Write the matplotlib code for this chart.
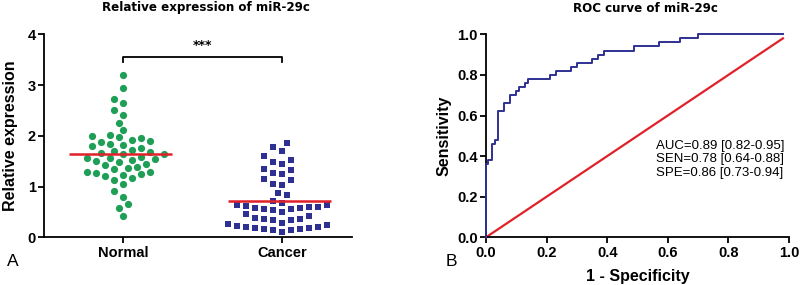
import numpy as np
import matplotlib
matplotlib.use('Agg')
import matplotlib.pyplot as plt

# ---------------- data ----------------
groups = ['Normal', 'Cancer']
normal_vals = [3.20, 2.95, 2.73, 2.64, 2.51, 2.41, 2.26, 2.12, 2.02, 1.99,
               1.97, 1.95, 1.92, 1.89, 1.87, 1.84, 1.82, 1.79, 1.76, 1.73,
               1.70, 1.69, 1.67, 1.64, 1.64, 1.59, 1.57, 1.56, 1.54, 1.53,
               1.51, 1.49, 1.44, 1.42, 1.39, 1.37, 1.35, 1.29, 1.28, 1.26,
               1.24, 1.23, 1.20, 1.16, 1.13, 1.06, 0.92, 0.80, 0.66, 0.57,
               0.42]
cancer_vals = [1.85, 1.77, 1.71, 1.60, 1.52, 1.49, 1.44, 1.35, 1.33, 1.26,
               1.24, 1.15, 1.13, 1.06, 1.04, 0.87, 0.83, 0.71,
               0.68, 0.64, 0.59, 0.57, 0.55, 0.54, 0.55, 0.57, 0.59, 0.62, 0.64,
               0.49, 0.42, 0.37, 0.35, 0.29, 0.27, 0.34, 0.36, 0.39, 0.45,
               0.24, 0.21, 0.19, 0.16, 0.14, 0.11, 0.14, 0.16, 0.18, 0.20, 0.22]
group_means = [1.64, 0.71]
expr_yticks = [0, 1, 2, 3, 4]
signif_label = '***'

roc_fpr = [0.0, 0.0, 0.008, 0.02, 0.03, 0.04, 0.06, 0.08, 0.10, 0.11, 0.13,
           0.14, 0.21, 0.23, 0.28, 0.30, 0.35, 0.37, 0.39, 0.49, 0.57, 0.64,
           0.70, 0.98]
roc_tpr = [0.0, 0.36, 0.38, 0.46, 0.48, 0.62, 0.66, 0.70, 0.72, 0.74, 0.76,
           0.78, 0.80, 0.82, 0.84, 0.86, 0.88, 0.90, 0.92, 0.94, 0.96, 0.98,
           1.0, 1.0]
ref_line = [0.0, 0.98]
roc_ticks = [0.0, 0.2, 0.4, 0.6, 0.8, 1.0]
roc_stats = ['AUC=0.89 [0.82-0.95]', 'SEN=0.78 [0.64-0.88]', 'SPE=0.86 [0.73-0.94]']

# ---------------- style ----------------
GREEN = '#1f9e55'
NAVY = '#2e3192'
RED = '#e02129'
FONT = 'Liberation Sans'
W, H = 800, 285

fig = plt.figure(figsize=(8, 2.85), dpi=100)


def style_axes(ax):
    for s in ['top', 'right']:
        ax.spines[s].set_visible(False)
    for s in ['left', 'bottom']:
        ax.spines[s].set_linewidth(1.3)
    ax.tick_params(direction='out', length=4, width=1.3, pad=2)
    for lab in ax.get_xticklabels() + ax.get_yticklabels():
        lab.set_fontfamily(FONT)
        lab.set_fontweight('bold')
        lab.set_fontsize(10.5)


def swarm(ax, xc, vals, d, step=4.5):
    """Greedy beeswarm layout in display space (lowest values first)."""
    vals = np.asarray(vals, float)
    pts = ax.transData.transform(np.column_stack([np.full(len(vals), xc), vals]))
    order = np.argsort(vals, kind='stable')
    placed = []
    xs = np.zeros(len(vals))
    for i in order:
        px, py = pts[i]
        best = None
        k = 0
        while best is None:
            cands = [0] if k == 0 else [-k, k]
            for s in cands:
                cx = px + s * step
                if all((cx - qx) ** 2 + (py - qy) ** 2 >= d * d for qx, qy in placed):
                    best = cx
                    break
            k += 1
        placed.append((best, py))
        xs[i] = best
    back = ax.transData.inverted().transform(np.column_stack([xs, pts[:, 1]]))
    return back[:, 0]


# ---------------- panel A ----------------
ax1 = fig.add_axes([44 / W, (H - 237.3) / H, 308 / W, 203 / H])
ax1.set_xlim(-0.497, 1.44)
ax1.set_ylim(0, 4)
ax1.set_xticks([0, 1])
ax1.set_xticklabels(groups)
ax1.set_yticks(expr_yticks)
style_axes(ax1)
ax1.set_ylabel('Relative expression', fontfamily=FONT, fontweight='bold',
               fontsize=11.5, labelpad=7)

xn = swarm(ax1, 0, normal_vals, 8.4)
xc = swarm(ax1, 1, cancer_vals, 8.4)
ax1.plot(xn, normal_vals, 'o', color=GREEN, markersize=5.2, markeredgewidth=0,
         clip_on=False, zorder=3)
ax1.plot(xc, cancer_vals, 's', color=NAVY, markersize=4.8, markeredgewidth=0,
         clip_on=False, zorder=3)
for i, m in enumerate(group_means):
    ax1.plot([i - 0.34, i + 0.31], [m, m], color=RED, lw=1.8, zorder=4,
             solid_capstyle='butt')

# significance bracket
ax1.plot([0, 0, 1, 1], [3.45, 3.55, 3.55, 3.45], color='black', lw=1.3,
         clip_on=False)
ax1.text(0.5, 3.78, signif_label, ha='center', va='center', fontsize=9,
         fontfamily='DejaVu Sans', fontweight='bold')

fig.text(206 / W, 1 - 8 / H, 'Relative expression of miR-29c', ha='center',
         va='center', fontsize=8.6, fontfamily='DejaVu Sans', fontweight='bold')
fig.text(13 / W, 1 - 261 / H, 'A', ha='center', va='center', fontsize=12.5,
         fontfamily=FONT)

# ---------------- panel B ----------------
ax2 = fig.add_axes([486 / W, (H - 237.3) / H, 303 / W, 203 / H])
ax2.set_xlim(0, 1.0)
ax2.set_ylim(0, 1.0)
ax2.set_xticks(roc_ticks)
ax2.set_yticks(roc_ticks)
ax2.xaxis.set_major_formatter(matplotlib.ticker.FormatStrFormatter('%.1f'))
ax2.yaxis.set_major_formatter(matplotlib.ticker.FormatStrFormatter('%.1f'))
style_axes(ax2)
ax2.set_xlabel('1 - Specificity', fontfamily=FONT, fontweight='bold',
               fontsize=11.5, labelpad=7)
ax2.set_ylabel('Sensitivity', fontfamily=FONT, fontweight='bold',
               fontsize=11.5, labelpad=4)

ax2.step(roc_fpr, roc_tpr, where='post', color=NAVY, lw=1.4, clip_on=False,
         zorder=3)
ax2.plot(ref_line, ref_line, color=RED, lw=1.6, clip_on=False, zorder=2)

for j, s in enumerate(roc_stats):
    fig.text(656 / W, 1 - (146 + 13.4 * j) / H, s, ha='left', va='center',
             fontsize=9.5, fontfamily=FONT)

fig.text(645 / W, 1 - 8 / H, 'ROC curve of miR-29c', ha='center',
         va='center', fontsize=8.6, fontfamily='DejaVu Sans', fontweight='bold')
fig.text(451 / W, 1 - 261 / H, 'B', ha='center', va='center', fontsize=12.5,
         fontfamily=FONT)

fig.savefig('out.png', dpi=100)
